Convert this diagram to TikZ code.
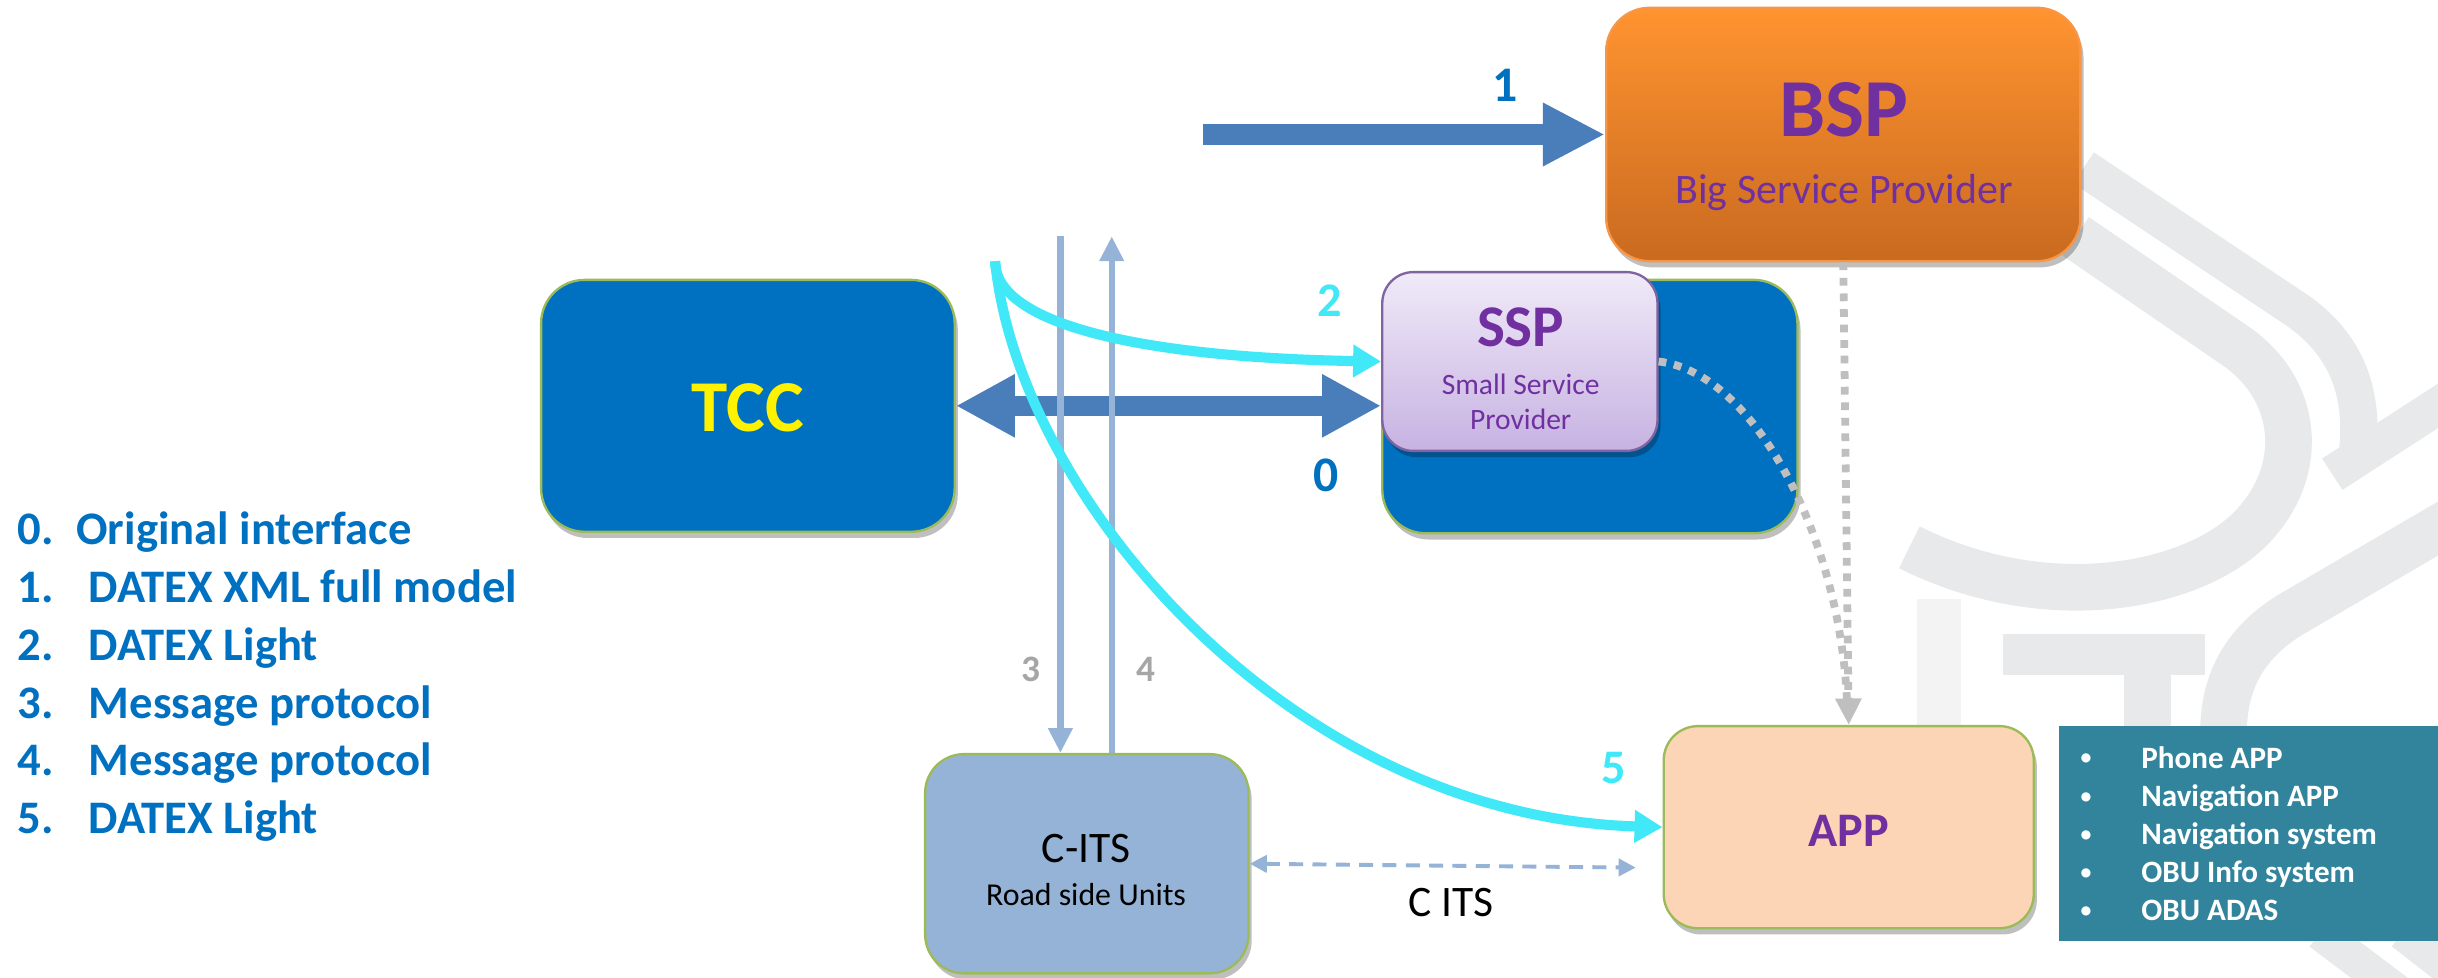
\documentclass[tikz,border=0pt]{standalone}
\usepackage{fontspec}
\setmainfont{Carlito}
\usetikzlibrary{arrows.meta,shadows}
\definecolor{dblue}{HTML}{0070C0}
\definecolor{sblue}{HTML}{4A7EBB}
\definecolor{lblue}{HTML}{95B3D7}
\definecolor{cyanl}{HTML}{41E8F8}
\definecolor{dgrey}{HTML}{BFBFBF}
\definecolor{purp}{HTML}{7030A0}
\definecolor{appfill}{HTML}{FBD5B5}
\definecolor{tealbox}{HTML}{31849B}
\definecolor{gborder}{HTML}{9BBB59}
\definecolor{bsptop}{HTML}{FF9430}
\definecolor{bspbot}{HTML}{C96A20}
\definecolor{bspline}{HTML}{F79646}
\definecolor{ssptop}{HTML}{F0EAF8}
\definecolor{sspbot}{HTML}{C7B2E2}
\definecolor{sspline}{HTML}{8064A2}
\definecolor{wmgray}{HTML}{E8E9EA}
\definecolor{wmlight}{HTML}{F3F3F4}
\definecolor{numgrey}{HTML}{A6A6A6}
\newcommand\myfs[1]{\fontsize{#1}{#1}\selectfont}
\newcommand\mybul{\makebox[39pt][l]{\raisebox{2pt}{\myfs{14}•}}}
\begin{document}
\begin{tikzpicture}[x=1pt,y=-1pt,
  rbox/.style={rounded corners=#1, inner sep=0pt, line width=1.5pt},
  rbox/.default=28pt,
  shad/.style={drop shadow={shadow xshift=2pt,shadow yshift=-4pt,opacity=0.25,fill=black}},
  lbl/.style={inner sep=0pt, anchor=base},
  leg/.style={inner sep=0pt, anchor=base west, text=dblue, font={\myfs{30}\bfseries}},
  lst/.style={inner sep=0pt, anchor=base west, text=white, font={\myfs{20}\bfseries}},
  wm/.style={line width=#1, draw=wmgray},
  wm/.default=26pt,
  fat/.style={line width=13pt, draw=sblue},
  cyanarrow/.style={line width=6.5pt, draw=cyanl, -{Triangle[length=18pt,width=20pt]}},
  thinarrow/.style={line width=4pt, draw=lblue},
  dotline/.style={line width=5pt, draw=dgrey, dash pattern=on 5pt off 5pt}
]
\useasboundingbox (0,0) rectangle (1568,628.4);
\fill[white] (0,0) rectangle (1568,628.4);

% watermark (faint background logo)
\draw[wm=24pt] (1340,108) -- (1478,200) .. controls (1512,224) and (1522,258) .. (1515,300);
\draw[wm=24pt] (1500,305) -- (1585,250);
\draw[wm=30pt] (1335,152) -- (1440,224) .. controls (1478,252) and (1482,300) .. (1452,335) .. controls (1418,376) and (1320,398) .. (1228,352);
\draw[wm=30pt] (1585,330) -- (1472,396) .. controls (1442,415) and (1430,440) .. (1430,472);
\draw[wm=26pt] (1288,421) -- (1418,421);
\draw[wm=30pt] (1381,421) -- (1381,472);
\draw[wm=28pt, draw=wmlight] (1247,385) -- (1247,472);
\draw[wm=22pt] (1492,600) -- (1545,640);
\draw[wm=22pt] (1545,600) -- (1590,635);

% boxes
\node[rbox, shad, draw=gborder, fill=dblue, minimum width=266pt, minimum height=162pt] (tcc) at (481,261) {};
\node[rbox, shad, draw=gborder, fill=dblue, minimum width=267pt, minimum height=163pt] (sspback) at (1022.5,261.5) {};
\node[rbox=20pt, shad, draw=sspline, top color=ssptop, bottom color=sspbot, minimum width=177pt, minimum height=115pt] (ssp) at (977.5,232.5) {};
\node[rbox, shad, draw=bspline, top color=bsptop, bottom color=bspbot, minimum width=305pt, minimum height=163pt] (bsp) at (1185.5,86.5) {};
\node[rbox=22pt, shad, draw=gborder, fill=appfill, minimum width=238pt, minimum height=130pt] (app) at (1189,532) {};
\node[rbox=25pt, shad, draw=gborder, fill=lblue, minimum width=208pt, minimum height=141pt] (cits) at (699,555.5) {};
\node[inner sep=0pt, fill=tealbox, anchor=north west, minimum width=250pt, minimum height=138pt] (list) at (1324,467) {};

% box texts
\node[lbl, text=yellow, font={\myfs{47}\bfseries}] (tcct) at (481,277.6) {TCC};
\node[lbl, text=purp, font={\myfs{53}\bfseries}] (bspt) at (1186,88) {BSP};
\node[lbl, text=purp, font={\myfs{27}}] (bspsub) at (1186,131) {Big Service Provider};
\node[lbl, text=purp, font={\myfs{38}\bfseries}] (sspt) at (978,223) {SSP};
\node[lbl, text=purp, font={\myfs{19}}] (sspsub1) at (978,254) {Small Service};
\node[lbl, text=purp, font={\myfs{19}}] (sspsub2) at (978,276) {Provider};
\node[lbl, text=purp, font={\myfs{31}\bfseries}] (appt) at (1189,544.6) {APP};
\node[lbl, text=black, font={\myfs{28}}] (citst) at (698.5,555) {C-ITS};
\node[lbl, text=black, font={\myfs{20.5}}] (citssub) at (698.5,582.6) {Road side Units};

% connector coordinates
\coordinate (s1) at (774,86.5);
\coordinate (cstart) at (640,168);
\coordinate (t3) at (682,152);
\coordinate (t4) at (715,152);
\coordinate (cend) at (1052,558);
\coordinate (dotend) at (1188,455);

% arrow 0 (double) and 1
\draw[fat, {Triangle[length=38pt,width=38pt]}-{Triangle[length=38pt,width=38pt]}] (tcc.east) -- (tcc.east -| ssp.west);
\draw[fat, -{Triangle[length=40pt,width=38pt]}] (s1) -- (bsp.west);

% arrows 3 and 4
\draw[thinarrow, -{Triangle[length=16pt,width=15pt]}] (t3) -- (t3 |- cits.north);
\draw[thinarrow, -{Triangle[length=16pt,width=15pt]}] (t4 |- cits.north) -- (t4);

% cyan curves 2 and 5
\draw[cyanarrow] (cstart) .. controls (640,210) and (740,230) .. (ssp.west);
\draw[cyanarrow] (cstart) .. controls (655,320) and (830,525) .. (app.west);

% grey dotted
\draw[dotline] (ssp.east) .. controls (1130,240) and (1185,350) .. (dotend);
\draw[dotline, -{Triangle[length=17pt,width=16pt]}] (bsp.south) -- (app.north);

% C ITS dashed
\draw[line width=2.5pt, draw=lblue, dash pattern=on 9pt off 6pt, {Triangle[length=11pt,width=11pt]}-{Triangle[length=11pt,width=11pt]}] (cits.east) -- (cend);
\node[lbl, text=black, font={\myfs{28}}] (citslbl) at (933,589.5) {C ITS};

% number labels
\node[lbl, text=dblue, font={\myfs{32}\bfseries}] (n1) at (968,65) {1};
\node[lbl, text=cyanl, font={\myfs{31}\bfseries}] (n2) at (855,203.6) {2};
\node[lbl, text=dblue, font={\myfs{32}\bfseries}] (n0) at (853,316) {0};
\node[lbl, text=cyanl, font={\myfs{31}\bfseries}] (n5) at (1038,503.7) {5};
\node[lbl, text=numgrey, font={\myfs{24}\bfseries}] (n3) at (663,438.4) {3};
\node[lbl, text=numgrey, font={\myfs{24}\bfseries}] (n4) at (737,438.4) {4};

% legend
\node[leg] (g0) at (11,350.5) {\makebox[38pt][l]{0.}Original interface};
\node[leg] (g1) at (11,387.6) {\makebox[46pt][l]{1.}DATEX XML full model};
\node[leg] (g2) at (11,424.7) {\makebox[46pt][l]{2.}DATEX Light};
\node[leg] (g3) at (11,461.8) {\makebox[46pt][l]{3.}Message protocol};
\node[leg] (g4) at (11,498.9) {\makebox[46pt][l]{4.}Message protocol};
\node[leg] (g5) at (11,536) {\makebox[46pt][l]{5.}DATEX Light};

% teal list
\node[lst] (l1) at (1338,494) {\mybul Phone APP};
\node[lst] (l2) at (1338,518.5) {\mybul Navigation APP};
\node[lst] (l3) at (1338,543) {\mybul Navigation system};
\node[lst] (l4) at (1338,567.5) {\mybul OBU Info system};
\node[lst] (l5) at (1338,592) {\mybul OBU ADAS};
\end{tikzpicture}
\end{document}
